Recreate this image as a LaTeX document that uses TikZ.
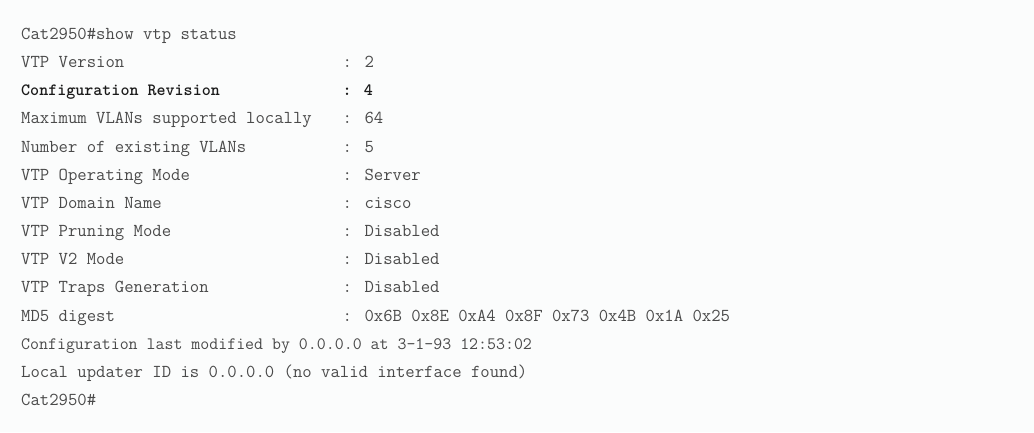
\documentclass[tikz,border=0pt]{standalone}
\usepackage{xcolor}
\definecolor{bg}{HTML}{FBFCFC}
\definecolor{txt}{HTML}{4A4A4A}
\definecolor{boldtxt}{HTML}{1A1A1A}
\begin{document}
\begin{tikzpicture}[x=1pt,y=-1pt,
  ln/.style={anchor=base west, inner sep=0pt, font=\fontsize{18.2}{20}\selectfont\ttfamily, text=txt},
  lnn/.style={ln, font=\fontsize{17.4}{20}\selectfont\ttfamily},
  bd/.style={ln, font=\fontsize{17.2}{20}\selectfont\ttfamily\bfseries, text=boldtxt}]
\fill[bg] (0,0) rectangle (1034,432);
\useasboundingbox (0,0) rectangle (1034,432);
\def\kx{21}
\def\vx{342.5}
\node[ln] (cmd) at (\kx,39.5) {Cat2950\#show vtp status};
\node[ln] (k1) at (\kx,67.65) {VTP Version};
\node[ln] (v1) at (\vx,67.65) {: 2};
\node[bd] (k2) at (\kx,95.8) {Configuration Revision};
\node[bd] (v2) at (\vx,95.8) {: 4};
\node[ln] (k3) at (\kx,123.95) {Maximum VLANs supported locally};
\node[ln] (v3) at (\vx,123.95) {: 64};
\node[ln] (k4) at (\kx,152.1) {Number of existing VLANs};
\node[ln] (v4) at (\vx,152.1) {: 5};
\node[ln] (k5) at (\kx,180.25) {VTP Operating Mode};
\node[ln] (v5) at (\vx,180.25) {: Server};
\node[ln] (k6) at (\kx,208.4) {VTP Domain Name};
\node[ln] (v6) at (\vx,208.4) {: cisco};
\node[ln] (k7) at (\kx,236.55) {VTP Pruning Mode};
\node[ln] (v7) at (\vx,236.55) {: Disabled};
\node[ln] (k8) at (\kx,264.7) {VTP V2 Mode};
\node[ln] (v8) at (\vx,264.7) {: Disabled};
\node[ln] (k9) at (\kx,292.85) {VTP Traps Generation};
\node[ln] (v9) at (\vx,292.85) {: Disabled};
\node[ln] (k10) at (\kx,321) {MD5 digest};
\node[ln] (v10) at (\vx,321) {: 0x6B 0x8E 0xA4 0x8F 0x73 0x4B 0x1A 0x25};
\node[lnn] (l11) at (\kx,349.15) {Configuration last modified by 0.0.0.0 at 3-1-93 12:53:02};
\node[ln] (l12) at (\kx,377.3) {Local updater ID is 0.0.0.0 (no valid interface found)};
\node[ln] (l13) at (\kx,405.45) {Cat2950\#};
\end{tikzpicture}
\end{document}
